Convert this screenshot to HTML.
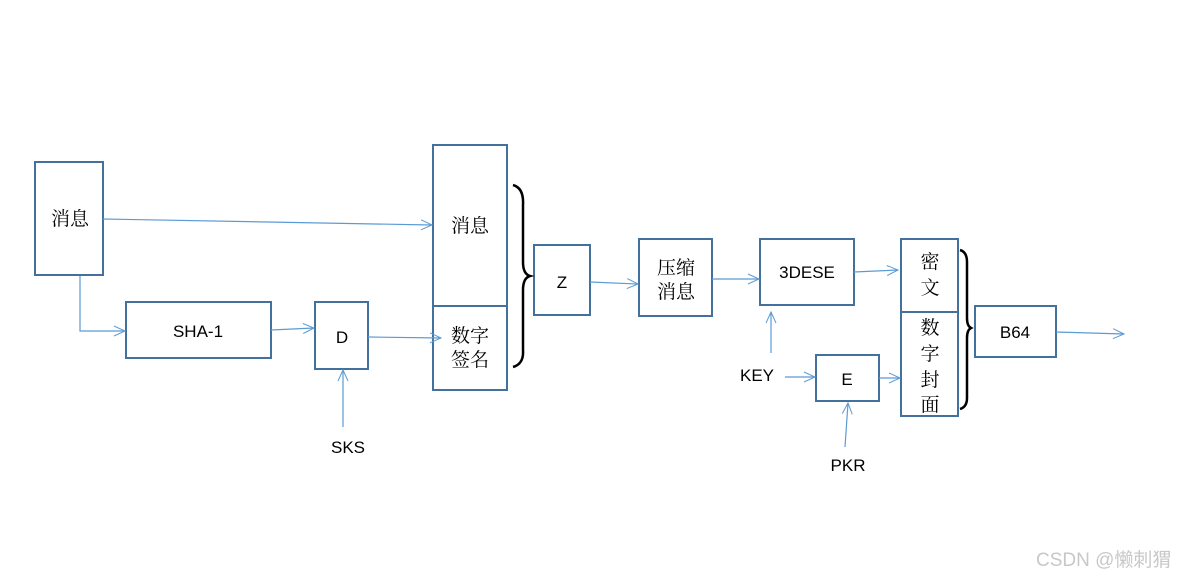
<!DOCTYPE html>
<html><head><meta charset="utf-8"><style>
html,body{margin:0;padding:0;background:#fff;}
svg{display:block}
text{font-family:"Liberation Sans","Noto Sans CJK SC",sans-serif;fill:#000;}
.cj{font-family:"Noto Serif CJK SC","Noto Sans CJK SC",serif;font-size:19px;}
</style></head><body>
<svg width="1190" height="579" viewBox="0 0 1190 579" xmlns="http://www.w3.org/2000/svg">
<defs>
<marker id="a" markerWidth="14" markerHeight="12" refX="12" refY="6" orient="auto" markerUnits="userSpaceOnUse">
<path d="M1,1 L12,6 L1,11" fill="none" stroke="#5b9bd5" stroke-width="1"/>
</marker>
</defs>
<g fill="none" stroke="#41719c" stroke-width="2">
<rect x="35" y="162" width="68" height="113"/>
<rect x="126" y="302" width="145" height="56"/>
<rect x="315" y="302" width="53" height="67"/>
<rect x="433" y="145" width="74" height="245"/>
<line x1="433" y1="306" x2="507" y2="306"/>
<rect x="534" y="245" width="56" height="70"/>
<rect x="639" y="239" width="73" height="77"/>
<rect x="760" y="239" width="94" height="66"/>
<rect x="901" y="239" width="57" height="177"/>
<line x1="901" y1="312" x2="958" y2="312"/>
<rect x="975" y="306" width="81" height="51"/>
<rect x="816" y="355" width="63" height="46"/>
</g>
<g fill="none" stroke="#5b9bd5" stroke-width="1.2" marker-end="url(#a)">
<line x1="103" y1="219" x2="432" y2="225"/>
<polyline points="80,276 80,331 125,331"/>
<line x1="271" y1="330" x2="314" y2="328"/>
<line x1="368" y1="337" x2="441" y2="338"/>
<line x1="590" y1="282" x2="638" y2="284"/>
<line x1="712" y1="279" x2="759" y2="279"/>
<line x1="854" y1="272" x2="898" y2="270"/>
<line x1="879" y1="378" x2="900" y2="378"/>
<line x1="785" y1="377" x2="815" y2="377"/>
<line x1="771" y1="353" x2="771" y2="312"/>
<line x1="845" y1="447" x2="848" y2="403"/>
<line x1="343" y1="427" x2="343" y2="370"/>
<line x1="1056" y1="332" x2="1124" y2="334"/>
</g>
<g fill="none" stroke="#000" stroke-width="2.5">
<path d="M513,185 Q524,188 523,205 L523,262 Q523,274 530,276 Q523,278 523,290 L523,350 Q524,364 513,367"/>
<path d="M960,250 Q967,252 967,262 L967,318 Q967,326 971,328 Q967,330 967,338 L967,398 Q967,407 960,409"/>
</g>
<text class="cj" x="70" y="225" text-anchor="middle">消息</text>
<text x="198" y="337" font-size="17" text-anchor="middle">SHA-1</text>
<text x="342" y="343" font-size="17" text-anchor="middle">D</text>
<text class="cj" x="470" y="232" text-anchor="middle">消息</text>
<text class="cj" x="470" y="342" text-anchor="middle">数字</text>
<text class="cj" x="470" y="366" text-anchor="middle">签名</text>
<text x="562" y="288" font-size="17" text-anchor="middle">Z</text>
<text class="cj" x="676" y="274" text-anchor="middle">压缩</text>
<text class="cj" x="676" y="298" text-anchor="middle">消息</text>
<text x="807" y="278" font-size="17" text-anchor="middle">3DESE</text>
<text class="cj" x="930" y="268" text-anchor="middle">密</text>
<text class="cj" x="930" y="294" text-anchor="middle">文</text>
<text class="cj" x="930" y="334" text-anchor="middle">数</text>
<text class="cj" x="930" y="360" text-anchor="middle">字</text>
<text class="cj" x="930" y="386" text-anchor="middle">封</text>
<text class="cj" x="930" y="411" text-anchor="middle">面</text>
<text x="1015" y="338" font-size="17" text-anchor="middle">B64</text>
<text x="847" y="385" font-size="17" text-anchor="middle">E</text>
<text x="757" y="381" font-size="17" text-anchor="middle">KEY</text>
<text x="848" y="471" font-size="17" text-anchor="middle">PKR</text>
<text x="348" y="453" font-size="17" text-anchor="middle">SKS</text>
<text x="1036" y="566" font-size="19" style="fill:#c8c8c8">CSDN @懒刺猬</text>
</svg>
</body></html>
